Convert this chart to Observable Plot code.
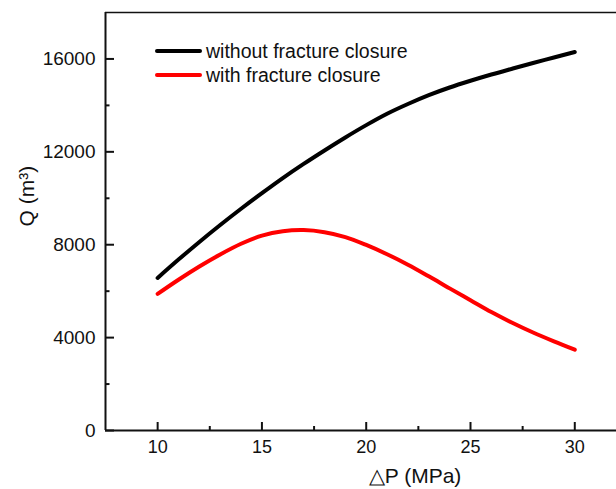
<!DOCTYPE html>
<html>
<head>
<meta charset="utf-8">
<script src="https://cdn.jsdelivr.net/npm/d3@7"></script>
<script src="https://cdn.jsdelivr.net/npm/@observablehq/plot@0.6"></script>
<style>
  body { margin: 0; background: #fff; }
  #wrap { position: relative; width: 616px; height: 489px; font-family: "Liberation Sans", Arial, sans-serif; }
  #legend { position: absolute; left: 155px; top: 39px; font-size: 19.5px; color: #111; }
  .item { display: flex; align-items: center; height: 24px; }
  .sw { width: 47px; height: 4px; margin-right: 4px; border-radius: 2px; }
</style>
</head>
<body>
<div id="wrap"><div id="legend"></div></div>
<script>
const deltaP = [10, 11, 12, 13, 14, 15, 16, 17, 18, 19, 20, 21, 22, 23, 24, 25, 26, 27, 28, 29, 30];
const qWithout = [6570, 7360, 8120, 8850, 9550, 10220, 10870, 11480, 12060, 12620, 13150, 13640, 14060, 14440, 14770, 15060, 15330, 15580, 15825, 16060, 16300];
const qWith = [5880, 6490, 7060, 7580, 8040, 8390, 8580, 8630, 8540, 8330, 7990, 7590, 7140, 6640, 6120, 5610, 5100, 4640, 4220, 3840, 3480];
const seriesNames = ["without fracture closure", "with fracture closure"];
const seriesColors = ["#000000", "#ff0000"];
const xDomain = [7.5, 32];
const yDomain = [0, 18000];
const xTicks = [10, 15, 20, 25, 30];
const xMinor = [12.5, 17.5, 22.5, 27.5];
const yTicks = [0, 4000, 8000, 12000, 16000];
const yMinor = [2000, 6000, 10000, 14000];
const xTitle = "\u25B3P (MPa)";
const yTitle = "Q (m\u00B3)";

const rows = [];
deltaP.forEach((p, i) => {
  rows.push({p, q: qWithout[i], s: seriesNames[0]});
  rows.push({p, q: qWith[i], s: seriesNames[1]});
});

const chart = Plot.plot({
  width: 616,
  height: 489,
  marginLeft: 105,
  marginRight: 0,
  marginTop: 12,
  marginBottom: 59,
  style: {fontFamily: "Liberation Sans, Arial, sans-serif", fontSize: "18px", color: "#111", background: "#fff"},
  x: {domain: xDomain},
  y: {domain: yDomain},
  color: {domain: seriesNames, range: seriesColors},
  marks: [
    Plot.line(rows, {x: "p", y: "q", z: "s", stroke: "s", strokeWidth: 4, curve: "catmull-rom", strokeLinecap: "round"}),
    // inward tick marks
    Plot.ruleX(xTicks, {x: d => d, y1: yDomain[0], y2: yDomain[0], insetBottom: 8, stroke: "#111", strokeWidth: 2}),
    Plot.ruleX(xMinor, {x: d => d, y1: yDomain[0], y2: yDomain[0], insetBottom: 4, stroke: "#111", strokeWidth: 2}),
    Plot.ruleY(yTicks, {y: d => d, x1: xDomain[0], x2: xDomain[0], insetRight: -9, stroke: "#111", strokeWidth: 2}),
    Plot.ruleY(yMinor, {y: d => d, x1: xDomain[0], x2: xDomain[0], insetRight: -4.5, stroke: "#111", strokeWidth: 2}),
    // frame lines
    Plot.ruleY([yDomain[0]], {stroke: "#111", strokeWidth: 2}),
    Plot.ruleY([yDomain[1]], {stroke: "#111", strokeWidth: 1.5}),
    Plot.ruleX([xDomain[0]], {stroke: "#111", strokeWidth: 2}),
    // tick labels
    Plot.axisX(xTicks, {tickSize: 0, tickPadding: 10, label: null, fontSize: 18}),
    Plot.axisY(yTicks, {tickSize: 0, tickPadding: 10, label: null, fontSize: 19, tickFormat: d => String(d)}),
    // axis titles
    Plot.text([xTitle], {frameAnchor: "bottom", dx: 54, dy: 46, fontSize: 21, lineAnchor: "middle"}),
    Plot.text([yTitle], {frameAnchor: "left", dx: -78, dy: 5, rotate: -90, fontSize: 21, lineAnchor: "middle"})
  ]
});
const wrap = document.getElementById("wrap");
wrap.insertBefore(chart, wrap.firstChild);
chart.style.position = "absolute";
chart.style.left = "0";
chart.style.top = "0";

const legend = document.getElementById("legend");
seriesNames.forEach((name, i) => {
  const item = document.createElement("div");
  item.className = "item";
  const sw = document.createElement("div");
  sw.className = "sw";
  sw.style.background = seriesColors[i];
  const label = document.createElement("span");
  label.textContent = name;
  item.appendChild(sw);
  item.appendChild(label);
  legend.appendChild(item);
});
</script>
</body>
</html>
